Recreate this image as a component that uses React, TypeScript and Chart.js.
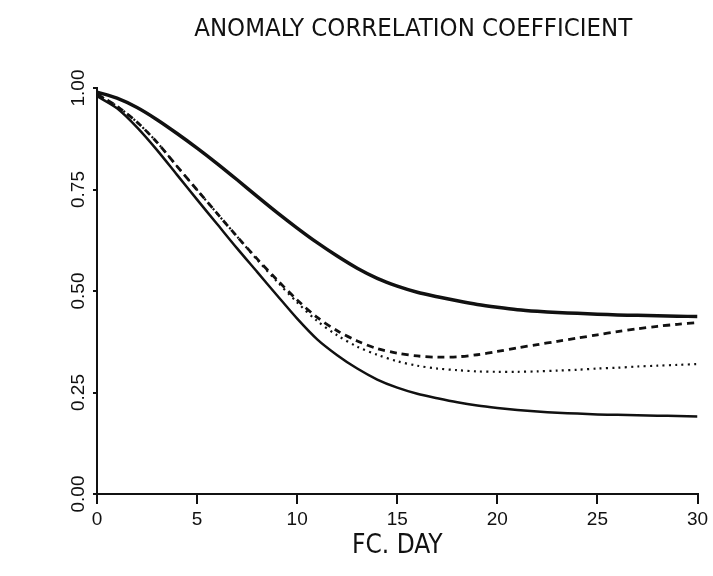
import { useEffect, useRef } from 'react';
import { Chart, registerables } from 'chart.js';

Chart.register(...registerables);

const TITLE = 'ANOMALY CORRELATION COEFFICIENT';
const X_LABEL = 'FC. DAY';

const DAYS = [0, 1, 2, 3, 4, 5, 6, 7, 8, 9, 10, 11, 12, 13, 14, 15, 16, 17, 18, 19, 20, 21, 22, 23, 24, 25, 26, 27, 28, 29, 30];

// thick solid (upper)
const ACC_UPPER = [0.99, 0.975, 0.952, 0.922, 0.888, 0.852, 0.814, 0.774, 0.733, 0.693, 0.655, 0.619, 0.586, 0.556, 0.531, 0.512, 0.497, 0.486, 0.476, 0.467, 0.46, 0.454, 0.45, 0.447, 0.445, 0.443, 0.441, 0.44, 0.439, 0.438, 0.437];
// thin solid (lower)
const ACC_LOWER = [0.98, 0.95, 0.903, 0.847, 0.786, 0.725, 0.665, 0.605, 0.547, 0.489, 0.432, 0.381, 0.342, 0.309, 0.282, 0.262, 0.247, 0.236, 0.226, 0.218, 0.212, 0.207, 0.203, 0.2, 0.198, 0.196, 0.195, 0.194, 0.193, 0.192, 0.191];
// dashed
const ACC_DASHED = [0.985, 0.955, 0.916, 0.866, 0.807, 0.749, 0.691, 0.634, 0.579, 0.527, 0.478, 0.435, 0.402, 0.377, 0.358, 0.347, 0.34, 0.337, 0.338, 0.343, 0.351, 0.36, 0.368, 0.376, 0.384, 0.392, 0.4, 0.407, 0.413, 0.418, 0.422];
// dotted
const ACC_DOTTED = [0.985, 0.955, 0.916, 0.866, 0.807, 0.749, 0.691, 0.634, 0.577, 0.523, 0.472, 0.426, 0.391, 0.363, 0.343, 0.327, 0.316, 0.309, 0.305, 0.302, 0.301, 0.301, 0.302, 0.304, 0.306, 0.309, 0.311, 0.314, 0.316, 0.318, 0.32];

const X_TICK_VALUES = [0, 5, 10, 15, 20, 25, 30];
const X_TICK_LABELS = ['0', '5', '10', '15', '20', '25', '30'];
const Y_TICK_VALUES = [0, 0.25, 0.5, 0.75, 1];
const Y_TICK_LABELS = ['0.00', '0.25', '0.50', '0.75', '1.00'];

const NARROW = '"Liberation Sans Narrow", "DejaVu Sans Condensed", "Liberation Sans", Arial, sans-serif';
const SANS = '"Liberation Sans", Arial, sans-serif';
const INK = '#111';

function pts(values: number[]) {
  return DAYS.map((d, i) => ({ x: d, y: values[i] }));
}

const titlePlugin = {
  id: 'accTitle',
  afterDraw(chart: any) {
    const { ctx, chartArea } = chart;
    ctx.save();
    ctx.font = '25.5px ' + NARROW;
    ctx.fillStyle = INK;
    ctx.textAlign = 'center';
    ctx.textBaseline = 'middle';
    ctx.fillText(TITLE, (chartArea.left + chartArea.right) / 2 + 16, chartArea.top - 59);
    ctx.restore();
  },
};

export default function App() {
  const ref = useRef<HTMLCanvasElement | null>(null);

  useEffect(() => {
    document.body.style.margin = '0';
    const canvas = ref.current;
    if (!canvas) return;
    const chart = new Chart(canvas, {
      type: 'line',
      data: {
        datasets: [
          { data: pts(ACC_UPPER), borderColor: INK, borderWidth: 3.5, pointRadius: 0, tension: 0.3, fill: false },
          { data: pts(ACC_LOWER), borderColor: INK, borderWidth: 2.5, pointRadius: 0, tension: 0.3, fill: false },
          { data: pts(ACC_DASHED), borderColor: INK, borderWidth: 2.8, borderDash: [7, 5], pointRadius: 0, tension: 0.3, fill: false },
          { data: pts(ACC_DOTTED), borderColor: INK, borderWidth: 2.2, borderDash: [2, 4.3], pointRadius: 0, tension: 0.3, fill: false },
        ],
      },
      options: {
        responsive: false,
        devicePixelRatio: 1,
        animation: false,
        layout: { padding: { top: 88, right: 15.5, bottom: 0, left: 0 } },
        plugins: {
          legend: { display: false },
          title: { display: false },
          tooltip: { enabled: false },
        },
        scales: {
          x: {
            type: 'linear',
            min: 0,
            max: 30,
            ticks: {
              stepSize: 5,
              color: INK,
              font: { family: SANS, size: 19 },
              padding: 4,
              autoSkip: false,
              maxRotation: 0,
              callback: (v: any) => {
                const i = X_TICK_VALUES.indexOf(Number(v));
                return i >= 0 ? X_TICK_LABELS[i] : '';
              },
            },
            grid: { display: true, drawOnChartArea: false, drawTicks: true, tickLength: 10, color: INK, lineWidth: 2 },
            border: { display: true, color: INK, width: 2 },
            title: { display: true, text: X_LABEL, color: INK, font: { family: NARROW, size: 26 }, padding: { top: 0, bottom: 14 } },
            afterFit: (s: any) => { s.height = 82; },
          },
          y: {
            type: 'linear',
            min: 0,
            max: 1,
            ticks: {
              stepSize: 0.25,
              color: INK,
              font: { family: SANS, size: 19 },
              padding: -4,
              autoSkip: false,
              minRotation: 90,
              maxRotation: 90,
              crossAlign: 'center',
              callback: (v: any) => {
                const i = Y_TICK_VALUES.findIndex((t) => Math.abs(t - Number(v)) < 1e-6);
                return i >= 0 ? Y_TICK_LABELS[i] : '';
              },
            },
            grid: { display: true, drawOnChartArea: false, drawTicks: true, tickLength: 4, color: INK, lineWidth: 2 },
            border: { display: true, color: INK, width: 2 },
            afterFit: (s: any) => { s.width = 97; },
          },
        },
      } as any,
      plugins: [titlePlugin],
    });
    return () => chart.destroy();
  }, []);

  return (
    <div style={{ width: 713, height: 576, background: '#fff' }}>
      <canvas ref={ref} width={713} height={576} style={{ display: 'block' }} />
    </div>
  );
}
